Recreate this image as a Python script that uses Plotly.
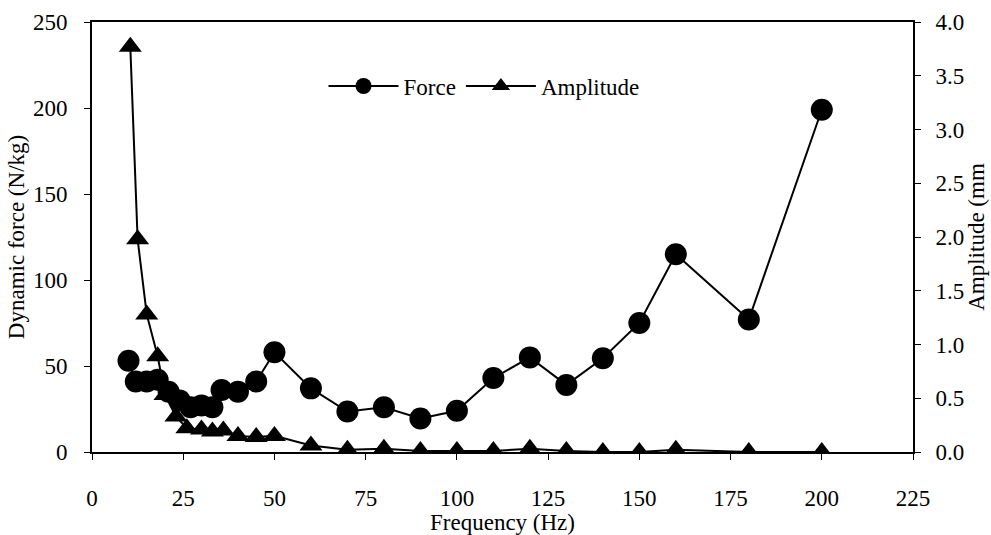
import plotly.graph_objects as go

# Data
force_freq = [10, 12, 15, 18, 21, 24, 27, 30, 33, 35.5, 40, 45, 50, 60, 70, 80, 90, 100,
              110, 120, 130, 140, 150, 160, 180, 200]
force_vals = [53, 41, 41, 42, 35, 30, 26, 27, 26, 36, 35, 41, 58, 37, 23.5, 26, 19.5, 24,
              43, 55, 39, 54.5, 75, 115, 77, 199]

amp_freq = [10.5, 12.5, 15, 18, 20, 23, 26, 30, 33, 36, 40, 45, 50, 60, 70, 80, 90, 100,
            110, 120, 130, 140, 150, 160, 180, 200]
amp_vals = [3.77, 1.98, 1.28, 0.89, 0.53, 0.33, 0.22, 0.21, 0.19, 0.2, 0.15, 0.14, 0.15,
            0.06, 0.02, 0.03, 0.01, 0.01, 0.01, 0.03, 0.01, 0.0, 0.0, 0.02, 0.0, 0.0]

x_ticks = [0, 25, 50, 75, 100, 125, 150, 175, 200, 225]
y_ticks = [0, 50, 100, 150, 200, 250]
y2_ticks = [0, 0.5, 1, 1.5, 2, 2.5, 3, 3.5, 4]

FONT = "Liberation Serif"
FS = 23

fig = go.Figure()
fig.add_trace(go.Scatter(
    x=force_freq, y=force_vals, name="Force", mode="lines+markers",
    line=dict(color="black", width=2),
    marker=dict(symbol="circle", size=22, color="black"),
))
fig.add_trace(go.Scatter(
    x=amp_freq, y=amp_vals, name="Amplitude", mode="lines+markers", yaxis="y2",
    line=dict(color="black", width=2),
    marker=dict(symbol="triangle-up", size=20, color="black"),
))

axis_common = dict(
    showgrid=False, zeroline=False, showline=True, linecolor="black", linewidth=2,
    ticks="outside", ticklen=6, tickcolor="black", tickwidth=1, automargin=False,
    tickfont=dict(family=FONT, size=FS, color="black"),
)

fig.update_layout(
    width=991, height=535,
    margin=dict(l=92, r=78, t=22, b=83),
    paper_bgcolor="white", plot_bgcolor="white",
    font=dict(family=FONT, size=FS, color="black"),
    xaxis=dict(range=[0, 225], tickvals=x_ticks, mirror=True, ticklabelstandoff=18,
               title=dict(text="Frequency (Hz)", font=dict(family=FONT, size=FS), standoff=4),
               **axis_common),
    yaxis=dict(range=[0, 250], tickvals=y_ticks, ticklabelstandoff=12,
               title=dict(text="Dynamic force (N/kg)", font=dict(family=FONT, size=FS), standoff=2),
               **axis_common),
    yaxis2=dict(range=[0, 4], tickvals=y2_ticks, tickformat=".1f", overlaying="y", side="right",
                ticklabelstandoff=10,
                title=dict(text="Amplitude (mm", font=dict(family=FONT, size=FS), standoff=2),
                **axis_common),
    legend=dict(orientation="h", x=0.282, y=0.851, xanchor="left", yanchor="middle",
                bgcolor="rgba(0,0,0,0)", itemwidth=70,
                font=dict(family=FONT, size=FS, color="black")),
    showlegend=True,
)

fig.write_html("out.html")
